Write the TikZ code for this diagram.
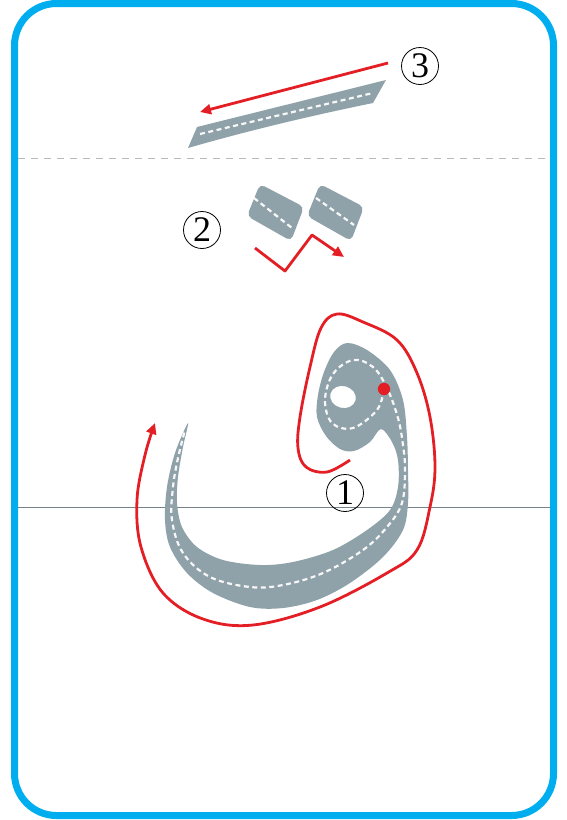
\documentclass[tikz,border=0pt]{standalone}
\usepackage{fontspec}
\setmainfont{Liberation Serif}
\usetikzlibrary{arrows.meta}
\definecolor{frame}{HTML}{00AEEF}
\definecolor{inkgray}{HTML}{8FA1A9}
\definecolor{redline}{HTML}{E31E24}
\definecolor{baseln}{HTML}{75838B}
\definecolor{guideln}{HTML}{B4BABE}
\tikzset{
  body/.style={fill=inkgray, draw=none},
  centre/.style={draw=white!94!gray, line width=2.2pt, dash pattern=on 5pt off 3.5pt},
  redpath/.style={draw=redline, line width=2.8pt, line join=round, -{Triangle[length=11pt,width=10pt]}},
  numcirc/.style={circle, draw=black, line width=0.8pt, minimum size=37pt, inner sep=0pt, font=\fontsize{36}{36}\selectfont}
}
\begin{document}
\begin{tikzpicture}[x=1pt,y=-1pt]
\useasboundingbox (0,0) rectangle (567,820);
% frame
\draw[frame, line width=7pt, rounded corners=42pt] (14.5,3.5) rectangle (553.5,815.5);
% guide lines
\draw[guideln, line width=1pt, dash pattern=on 7pt off 6pt] (18,158.3) -- (550,158.3);
\draw[baseln, line width=1.8pt] (18,507.5) -- (550,507.5);

% ---- stroke 3
\fill[inkgray] (188,148) -- (197,127) -- (386,80) -- (373,103) .. controls (300,118) and (240,133) .. cycle;
\draw[centre] (200,134) -- (373,93);
\coordinate (s3a) at (388,63);
\coordinate (s3b) at (200,112);
\draw[redpath] (s3a) -- (s3b);
\node[numcirc] (n3) at (420,66) {3};

% ---- stroke 2 (dots)
\fill[inkgray, rounded corners=5pt] (260,184) -- (304,207) -- (291,241) -- (247,216) -- cycle;
\draw[centre] (254,198) -- (292,228);
\fill[inkgray, rounded corners=5pt] (320,184) -- (364,207) -- (351,241) -- (307,216) -- cycle;
\draw[centre] (316,198) -- (354,225);
\coordinate (z1) at (255,248);
\coordinate (z2) at (285,271);
\coordinate (z3) at (312,235);
\coordinate (z4) at (344,257);
\draw[redpath] (z1) -- (z2) -- (z3) -- (z4);
\node[numcirc] (n2) at (202,230) {2};

% ---- stroke 1 (letter body)
\fill[inkgray, even odd rule]
  plot[smooth cycle, tension=0.55] coordinates {
   (188,423) (175,453) (167,487) (165,520) (170,547) (187,573) (213,593) (250,607) (283,608)
   (317,600) (350,583) (383,557) (403,530) (408,503) (408,470) (407,437) (403,400) (390,370)
   (367,350) (347,343) (334,352) (324,372) (318,395) (317,417) (326,436) (340,449) (354,451)
   (370,442) (381,429) (392,442) (398,460) (398,487) (390,510) (367,530) (333,550)
   (293,562) (260,565) (223,560) (197,547) (182,527) (177,503) (178,477) (183,447) }
  [rotate around={-15:(343,397)}] (343,397) ellipse[x radius=13pt, y radius=11pt];
\draw[centre] plot[smooth, tension=0.6] coordinates {
   (384,389) (377,410) (353,428) (332,423) (325,400) (333,374) (353,360) (373,367) (387,388)
   (398,418) (403,445) (405,470) (402,503) (387,527) (363,550) (323,573) (283,585) (250,587)
   (210,577) (183,553) (172,520) (173,487) (178,458) (185,430) };
\draw[redpath] plot[smooth, tension=0.6] coordinates {
   (350,460) (327,472) (306,467) (298,448) (300,417) (310,367) (321,328) (337,314)
   (363,322) (397,340) (417,373) (430,417) (435,467) (430,507) (417,550)
   (387,573) (320,607) (253,625) (203,619) (163,593) (141,547) (137,500) (145,455) (155,423) };
\fill[redline] (384,389) circle (6.2pt);
\node[numcirc] (n1) at (345,493) {1};
\end{tikzpicture}
\end{document}
